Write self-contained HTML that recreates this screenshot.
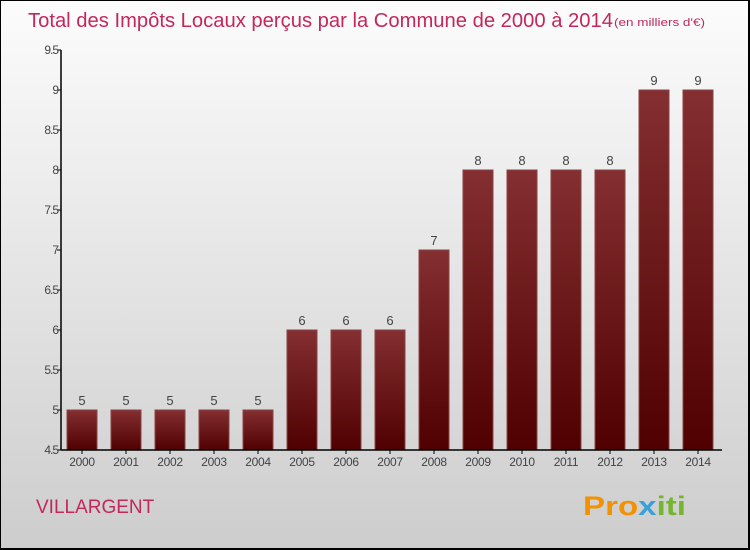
<!DOCTYPE html>
<html><head><meta charset="utf-8"><style>
body{margin:0}
#c{width:750px;height:550px;box-sizing:border-box;border:1px solid #000;border-width:1px 2px 2px 1px;background:linear-gradient(#fcfcfc,#cdcdcd);position:relative;font-family:"Liberation Sans",sans-serif}
</style></head><body>
<div id="c">
<svg width="750" height="550" style="position:absolute;left:-1px;top:-1px">
<defs><linearGradient id="g" x1="0" y1="0" x2="0" y2="1"><stop offset="0" stop-color="#842f31"/><stop offset="1" stop-color="#500000"/></linearGradient></defs>
<text x="28" y="27" font-size="20" fill="#c4275a" textLength="585" lengthAdjust="spacingAndGlyphs">Total des Impôts Locaux perçus par la Commune de 2000 à 2014</text>
<text x="614" y="26" font-size="11" fill="#c4275a" textLength="91" lengthAdjust="spacingAndGlyphs">(en milliers d'€)</text>
<g id="plot"></g>
<text x="36" y="513" font-size="19" fill="#c4275a">VILLARGENT</text>
<text x="583" y="515" font-size="27" font-weight="bold" fill="#f39200" textLength="103" lengthAdjust="spacingAndGlyphs">Pro<tspan fill="#3aa0d8">x</tspan><tspan fill="#74b72e">iti</tspan></text>
</svg>
</div>
<script>
const years=["2000","2001","2002","2003","2004","2005","2006","2007","2008","2009","2010","2011","2012","2013","2014"];
const values=[5,5,5,5,5,6,6,6,7,8,8,8,8,9,9];
const yTicks=[4.5,5,5.5,6,6.5,7,7.5,8,8.5,9,9.5];
const ns="http://www.w3.org/2000/svg",p=document.getElementById('plot');
const yS=v=>450-(v-4.5)*80, xS=i=>67+44*i;
function mk(t,a){const e=document.createElementNS(ns,t);for(const k in a)e.setAttribute(k,a[k]);p.appendChild(e);return e;}
yTicks.forEach(t=>{const l=mk('line',{x1:57,x2:61,y1:yS(t),y2:yS(t),stroke:'#000'});


const tx=mk('text',{x:58,y:yS(t)+4,'font-size':12,fill:'#444','text-anchor':'end','letter-spacing':'-1'});tx.textContent=String(t);

});
values.forEach((v,i)=>{const b=mk('rect',{x:xS(i),y:yS(v),width:30,height:450-yS(v),fill:'url(#g)',stroke:'#8a4446','stroke-width':1});


const vl=mk('text',{x:xS(i)+15,y:yS(v)-5,'font-size':13,fill:'#444','text-anchor':'middle'});vl.textContent=v;


const xl=mk('text',{x:xS(i)+15,y:466,'font-size':12,fill:'#444','text-anchor':'middle','letter-spacing':'-0.3'});xl.textContent=years[i];


const tk=mk('line',{x1:xS(i)+15,x2:xS(i)+15,y1:450,y2:454,stroke:'#000'});

});
const ya=mk('line',{x1:61,x2:61,y1:50,y2:450,stroke:'#000','stroke-width':1.5});


const xa=mk('line',{x1:61,x2:722,y1:450,y2:450,stroke:'#000','stroke-width':1.5});


</script>
</body></html>
